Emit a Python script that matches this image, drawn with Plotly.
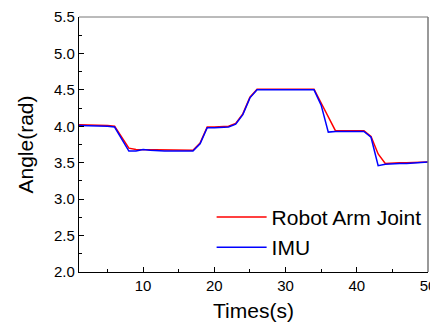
import plotly.graph_objects as go

time_s = list(range(1, 51))
robot_arm = [4.02, 4.02, 4.01, 4.01, 4.01, 4.00, 3.85, 3.70, 3.68, 3.68,
             3.67, 3.67, 3.67, 3.67, 3.67, 3.67, 3.67, 3.77, 3.99, 3.99,
             3.99, 4.00, 4.04, 4.17, 4.40, 4.51, 4.51, 4.51, 4.51, 4.51,
             4.51, 4.51, 4.51, 4.51, 4.32, 4.14, 3.94, 3.94, 3.94, 3.94,
             3.94, 3.86, 3.62, 3.49, 3.50, 3.50, 3.50, 3.50, 3.51, 3.51]
imu = [4.01, 4.01, 4.00, 4.00, 4.00, 3.99, 3.83, 3.66, 3.66, 3.68,
       3.67, 3.66, 3.66, 3.66, 3.66, 3.66, 3.66, 3.76, 3.98, 3.98,
       3.98, 3.99, 4.03, 4.16, 4.39, 4.50, 4.50, 4.50, 4.50, 4.50,
       4.50, 4.50, 4.50, 4.50, 4.29, 3.92, 3.93, 3.93, 3.93, 3.93,
       3.93, 3.85, 3.46, 3.48, 3.49, 3.49, 3.49, 3.50, 3.50, 3.51]

fig = go.Figure()
fig.add_trace(go.Scatter(x=time_s, y=robot_arm, mode="lines", name="Robot Arm Joint",
                         line=dict(color="#ff0000", width=1.5)))
fig.add_trace(go.Scatter(x=time_s, y=imu, mode="lines", name="IMU",
                         line=dict(color="#0000ff", width=1.5)))

font = "Liberation Sans, Arial, sans-serif"
fig.update_layout(
    width=430, height=316,
    margin=dict(l=71, r=10, t=9, b=52),
    paper_bgcolor="white", plot_bgcolor="white",
    font=dict(family=font, color="#000000"),
    showlegend=True,
    legend=dict(x=0.38, y=0.295, xanchor="left", yanchor="top",
                font=dict(size=21, family=font), bgcolor="rgba(0,0,0,0)",
                tracegroupgap=0, itemwidth=50),
    xaxis=dict(range=[1, 50], tickmode="linear", tick0=0, dtick=10,
               automargin=False,
               ticks="inside", ticklen=5, tickwidth=1, tickcolor="#000",
               minor=dict(dtick=5, ticks="inside", ticklen=3, tickcolor="#000"),
               showline=True, linecolor="#000", linewidth=1.2,
               showgrid=False, zeroline=False,
               tickfont=dict(size=15, family=font),
               title=dict(text="Times(s)", font=dict(size=21, family=font), standoff=10)),
    yaxis=dict(range=[2.0, 5.5], tickmode="linear", tick0=2.0, dtick=0.5,
               tickformat=".1f", automargin=False,
               ticks="inside", ticklen=5, tickwidth=1, tickcolor="#000",
               minor=dict(dtick=0.25, ticks="inside", ticklen=3, tickcolor="#000"),
               showline=True, linecolor="#000", linewidth=1.2,
               showgrid=False, zeroline=False,
               tickfont=dict(size=15, family=font),
               title=dict(text="Angle(rad)", font=dict(size=21, family=font), standoff=14)),
)
fig.add_shape(type="line", xref="paper", yref="paper", x0=0, x1=1, y0=1, y1=1,
              line=dict(color="#777", width=1))
fig.add_shape(type="line", xref="paper", yref="paper", x0=1, x1=1, y0=0, y1=1,
              line=dict(color="#777", width=1.5))

fig.write_html("out.html")
